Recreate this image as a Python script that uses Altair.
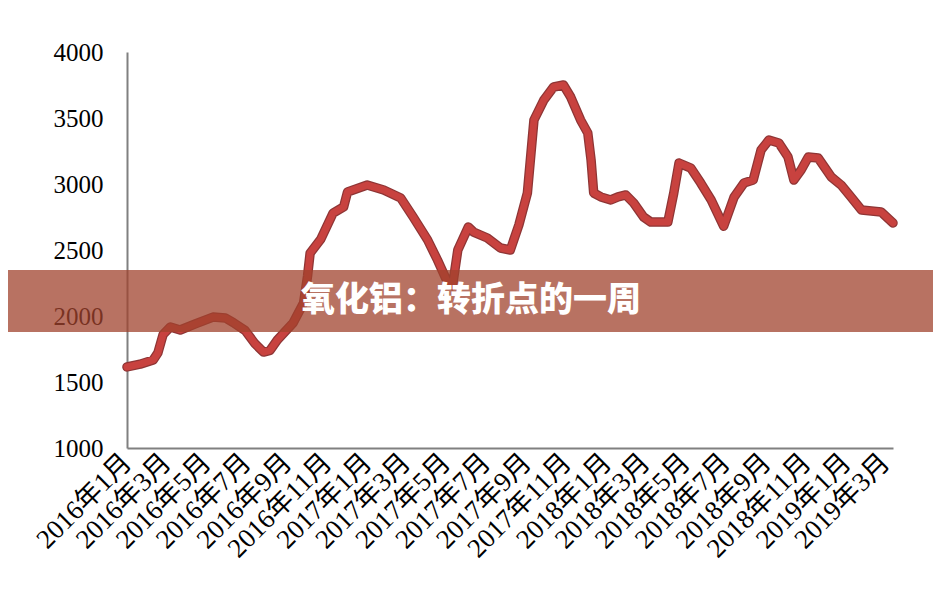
import altair as alt
import pandas as pd

# ---- data ----
dates = [
    "2016-01-01", "2016-01-21", "2016-02-10", "2016-02-17", "2016-02-25", "2016-03-07",
    "2016-03-22", "2016-04-14", "2016-05-11", "2016-05-30", "2016-06-11", "2016-06-29",
    "2016-07-14", "2016-07-27", "2016-08-06", "2016-08-17", "2016-09-10", "2016-09-26",
    "2016-10-02", "2016-10-06", "2016-10-22", "2016-11-10", "2016-11-26", "2016-12-02",
    "2017-01-01", "2017-01-26", "2017-02-21", "2017-03-12", "2017-04-03", "2017-04-18",
    "2017-05-03", "2017-05-11", "2017-05-19", "2017-06-04", "2017-06-12", "2017-07-03",
    "2017-07-23", "2017-08-07", "2017-08-20", "2017-09-02", "2017-09-12", "2017-09-27",
    "2017-10-12", "2017-10-27", "2017-11-07", "2017-11-22", "2017-12-03", "2017-12-08",
    "2017-12-12", "2017-12-23", "2018-01-07", "2018-01-18", "2018-01-30", "2018-02-11",
    "2018-02-26", "2018-03-09", "2018-04-04", "2018-04-13", "2018-04-21", "2018-05-09",
    "2018-05-24", "2018-06-09", "2018-06-28", "2018-07-14", "2018-07-29", "2018-08-12",
    "2018-08-24", "2018-09-05", "2018-09-20", "2018-10-04", "2018-10-13", "2018-10-24",
    "2018-11-04", "2018-11-19", "2018-12-09", "2018-12-24", "2019-01-08", "2019-01-24",
    "2019-02-23", "2019-03-13",
]
prices = [
    1614, 1635, 1667, 1720, 1860, 1917,
    1894, 1940, 1992, 1985, 1950, 1890,
    1790, 1727, 1740, 1818, 1947, 2098,
    2300, 2477, 2580, 2780, 2826, 2940,
    2992, 2955, 2894, 2750, 2576, 2424,
    2260, 2230, 2500, 2674, 2636, 2591,
    2515, 2500, 2690, 2932, 3485, 3636,
    3735, 3750, 3659, 3485, 3386, 3182,
    2932, 2902, 2879, 2902, 2917, 2856,
    2750, 2712, 2712, 2932, 3159, 3121,
    3008, 2879, 2680, 2902, 3008, 3030,
    3258, 3333, 3311, 3205, 3030, 3106,
    3205, 3197, 3053, 2992, 2902, 2803,
    2788, 2705,
]
x_domain = [(2016, 1, 1), (2019, 3, 13)]
tick_months = [
    (2016, 1), (2016, 3), (2016, 5), (2016, 7), (2016, 9), (2016, 11),
    (2017, 1), (2017, 3), (2017, 5), (2017, 7), (2017, 9), (2017, 11),
    (2018, 1), (2018, 3), (2018, 5), (2018, 7), (2018, 9), (2018, 11),
    (2019, 1), (2019, 3),
]
tick_labels = [
    "2016年1月", "2016年3月", "2016年5月", "2016年7月", "2016年9月", "2016年11月",
    "2017年1月", "2017年3月", "2017年5月", "2017年7月", "2017年9月", "2017年11月",
    "2018年1月", "2018年3月", "2018年5月", "2018年7月", "2018年9月", "2018年11月",
    "2019年1月", "2019年3月",
]
y_ticks = [1000, 1500, 2000, 2500, 3000, 3500, 4000]
banner_title = ["氧化铝：转折点的一周"]

df = pd.DataFrame({"date": dates, "price": prices})
title_df = pd.DataFrame({"t": banner_title})

# ---- layout ----
W, H = 766, 396
PAD_L, PAD_T, PAD_R, PAD_B = 119, 44, 40, 140

tick_ts = [int(pd.Timestamp(year=y, month=m, day=1).value // 10**6) for y, m in tick_months]
label_expr = (
    "[" + ",".join("'" + l + "'" for l in tick_labels) + "]"
    + "[indexof([" + ",".join(str(t) for t in tick_ts) + "], time(datum.value))]"
)

serif = "Liberation Serif, Noto Sans CJK SC"

x_enc = alt.X(
    "date:T",
    scale=alt.Scale(
        type="utc",
        domain=[alt.DateTime(year=y, month=m, date=d, utc=True) for y, m, d in x_domain],
    ),
    axis=alt.Axis(
        values=[alt.DateTime(year=y, month=m, date=1, utc=True) for y, m in tick_months],
        labelExpr=label_expr,
        labelAngle=-45,
        labelAlign="right",
        labelBaseline="middle",
        labelOverlap=False,
        labelBound=False,
        labelFlush=False,
        labelFont=serif,
        labelFontSize=27,
        labelColor="black",
        labelPadding=10,
        ticks=False,
        grid=False,
        domainColor="#808080",
        domainWidth=2,
        title=None,
    ),
)
y_enc = alt.Y(
    "price:Q",
    scale=alt.Scale(domain=[1000, 4000], nice=False, zero=False),
    axis=alt.Axis(
        values=y_ticks,
        format="d",
        labelFont=serif,
        labelFontSize=25,
        labelColor="black",
        labelPadding=24,
        ticks=False,
        grid=False,
        domainColor="#808080",
        domainWidth=2,
        title=None,
    ),
)

outline = alt.Chart(df).mark_line(
    color="#8e3535", strokeWidth=9.5, strokeJoin="round", strokeCap="round"
).encode(x=x_enc, y=y_enc)

line = alt.Chart(df).mark_line(
    color="#c8423f", strokeWidth=7, strokeJoin="round", strokeCap="round"
).encode(x=x_enc, y=y_enc)

banner = alt.Chart(title_df).mark_rect(color="#a0432e", opacity=0.75).encode(
    x=alt.value(-PAD_L), x2=alt.value(W + PAD_R), y=alt.value(218), y2=alt.value(280)
)

title_txt = alt.Chart(title_df).mark_text(
    font="Noto Sans CJK SC", fontSize=34, fontWeight=900, color="white",
    align="center", baseline="middle",
).encode(x=alt.value(344), y=alt.value(249), text="t:N")

chart = (
    alt.layer(outline, line, banner, title_txt)
    .properties(
        width=W,
        height=H,
        autosize=alt.AutoSizeParams(type="none"),
        padding={"left": PAD_L, "top": PAD_T, "right": PAD_R, "bottom": PAD_B},
        background="white",
    )
    .configure_view(stroke=None)
)

chart.save("out.html", embed_options={"renderer": "svg", "actions": False})
